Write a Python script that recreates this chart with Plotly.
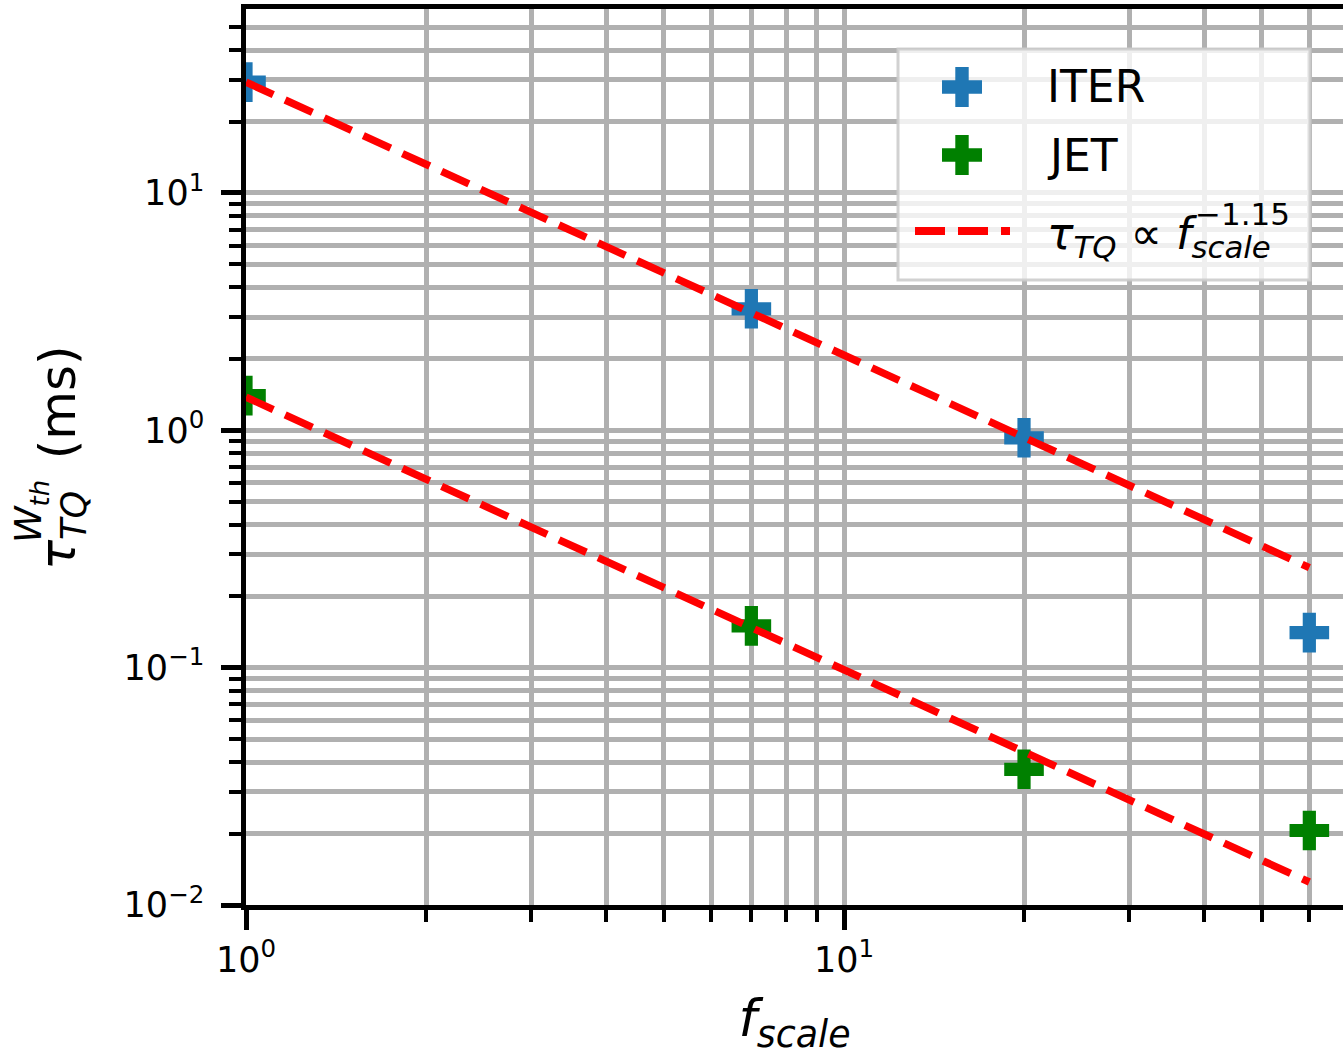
import plotly.graph_objects as go

# ---------------- data ----------------
f_scale = [1, 7, 20, 60]
iter_tau = [29.3, 3.25, 0.930, 0.1404]
jet_tau = [1.40, 0.150, 0.0373, 0.0206]

fit_f = [1, 60]
iter_fit = [29.3, 0.264]
jet_fit = [1.38, 0.0125]

x_tickvals = [1, 10]
x_ticktext = ["10<sup>0</sup>", "10<sup>1</sup>"]
y_tickvals = [0.01, 0.1, 1, 10]
y_ticktext = ["10<sup>−2</sup>", "10<sup>−1</sup>", "10<sup>0</sup>", "10<sup>1</sup>"]

series_names = ["ITER", "JET"]
fit_label = "<i>τ</i><sub><i>TQ</i></sub> ∝ <i>f</i><sub><i>scale</i></sub>"
fit_exponent = "−1.15"

# ---------------- style ----------------
W, H = 1343, 1056
L, T, B, R = 246, 9, 151, 0
PW, PH = W - L - R, H - T - B
FONT = "DejaVu Sans"
BLUE = "#1f77b4"
GREEN = "#008000"
GRID = "#b0b0b0"


def px(x):
    return (x - L) / PW


def py(y):
    return 1 - (y - T) / PH


fig = go.Figure()

fig.add_trace(go.Scatter(x=f_scale, y=iter_tau, mode="markers", name=series_names[0],
                         marker=dict(symbol="cross", size=33, color=BLUE), showlegend=False))
fig.add_trace(go.Scatter(x=f_scale, y=jet_tau, mode="markers", name=series_names[1],
                         marker=dict(symbol="cross", size=33, color=GREEN), showlegend=False))
fig.add_trace(go.Scatter(x=fit_f, y=iter_fit, mode="lines", name="fit ITER",
                         line=dict(color="red", width=7.5, dash="30px,13px"), showlegend=False))
fig.add_trace(go.Scatter(x=fit_f, y=jet_fit, mode="lines", name="fit JET",
                         line=dict(color="red", width=7.5, dash="30px,13px"), showlegend=False))

axis_common = dict(
    type="log",
    showline=True, linecolor="black", linewidth=4.5,
    ticks="outside", ticklen=20, tickwidth=4.5, tickcolor="black",
    tickfont=dict(family=FONT, size=35, color="black"),
    showgrid=True, gridcolor=GRID, gridwidth=5,
    tickmode="array",
    minor=dict(dtick="D1", ticks="outside", ticklen=12, tickwidth=3.5, tickcolor="black",
               showgrid=True, gridcolor=GRID, gridwidth=5),
)

fig.update_layout(
    width=W, height=H,
    margin=dict(l=L, r=R, t=T, b=B, autoexpand=False),
    paper_bgcolor="white", plot_bgcolor="white",
    font=dict(family=FONT, color="black"),
    showlegend=False,
    xaxis=dict(axis_common, range=[0, (W - L) / 598], mirror=True,
               tickvals=x_tickvals, ticktext=x_ticktext,
               title=dict(text="<i>f</i><sub><i>scale</i></sub>",
                          font=dict(family=FONT, size=52), standoff=28)),
    yaxis=dict(axis_common, range=[-2, 1.775], mirror=False,
               tickvals=y_tickvals, ticktext=y_ticktext, ticklabelstandoff=10),
)

# y axis title (stacked super/subscript)
fig.add_annotation(xref="paper", yref="paper", x=px(61), y=py(458),
                   text="<i>τ</i><sub><i>TQ</i></sub>  (ms)", textangle=-90,
                   showarrow=False, xanchor="center", yanchor="middle",
                   font=dict(family=FONT, size=50))
fig.add_annotation(xref="paper", yref="paper", x=px(31), y=py(512),
                   text="<i>W<sub>th</sub></i>", textangle=-90,
                   showarrow=False, xanchor="center", yanchor="middle",
                   font=dict(family=FONT, size=37))

# legend box
fig.add_shape(type="rect", xref="paper", yref="paper",
              x0=px(898), x1=px(1310), y0=py(280), y1=py(49),
              fillcolor="rgba(255,255,255,0.8)",
              line=dict(color="rgba(204,204,204,0.9)", width=3), layer="above")

plus_path = "M-20,-6.7 H-6.7 V-20 H6.7 V-6.7 H20 V6.7 H6.7 V20 H-6.7 V6.7 H-20 Z"
for color, ycen in [(BLUE, 87), (GREEN, 155)]:
    fig.add_shape(type="path", xref="paper", yref="paper",
                  xsizemode="pixel", ysizemode="pixel",
                  xanchor=px(962), yanchor=py(ycen), path=plus_path,
                  fillcolor=color, line=dict(width=0), layer="above")

fig.add_shape(type="line", xref="paper", yref="paper",
              x0=px(915), x1=px(1010), y0=py(231), y1=py(231),
              line=dict(color="red", width=8, dash="30px,13px"), layer="above")

for name, ycen in [(series_names[0], 87), (series_names[1], 155)]:
    fig.add_annotation(xref="paper", yref="paper", x=px(1045), y=py(ycen),
                       text=name, showarrow=False, xanchor="left", yanchor="middle",
                       font=dict(family=FONT, size=44))

fig.add_annotation(xref="paper", yref="paper", x=px(1045), y=py(236),
                   text=fit_label, showarrow=False, xanchor="left", yanchor="middle",
                   font=dict(family=FONT, size=44))
fig.add_annotation(xref="paper", yref="paper", x=px(1193), y=py(214),
                   text=fit_exponent, showarrow=False, xanchor="left", yanchor="middle",
                   font=dict(family=FONT, size=31))

fig.write_html("out.html")
